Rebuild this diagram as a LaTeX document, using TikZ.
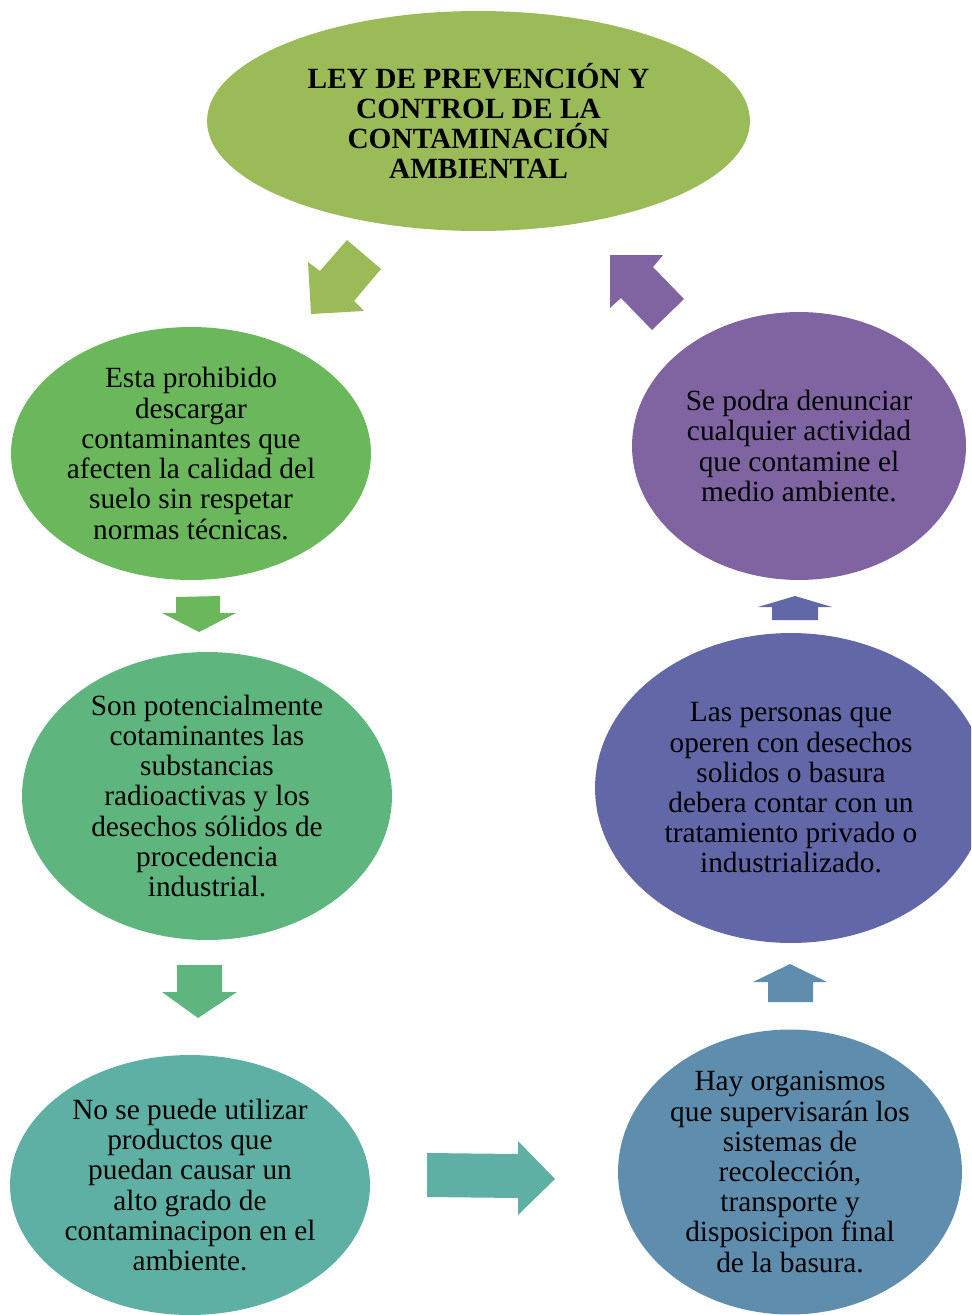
\documentclass[tikz,border=0pt]{standalone}
\usepackage{fontspec}
\setmainfont{Liberation Serif}
\usetikzlibrary{shapes.geometric}

\definecolor{leyolive}{HTML}{9BBB59}
\definecolor{verdeA}{HTML}{6AB85B}
\definecolor{verdeB}{HTML}{5EB67E}
\definecolor{tealC}{HTML}{5EB0A4}
\definecolor{azulD}{HTML}{5F8DAD}
\definecolor{azulE}{HTML}{6267A8}
\definecolor{moradoF}{HTML}{8064A2}

\tikzset{
  burbuja/.style={ellipse, inner sep=0pt, align=center, text=black,
    font=\fontsize{16.7pt}{17.2pt}\selectfont},
}

\begin{document}
\begin{tikzpicture}[x=0.02cm,y=-0.02cm]
\clip (0,0) rectangle (971,1315);
% ellipses
\node[burbuja, fill=leyolive, minimum width=10.86cm, minimum height=4.4cm,
  font=\fontsize{16.7pt}{17.2pt}\selectfont\bfseries] (ley) at (478.5,121)
  {LEY DE PREVENCIÓN Y\\CONTROL DE LA\\CONTAMINACIÓN\\AMBIENTAL};
\node[burbuja, fill=verdeA, minimum width=7.2cm, minimum height=5.06cm] (suelo) at (191,453.5)
  {Esta prohibido\\descargar\\contaminantes que\\afecten la calidad del\\suelo sin respetar\\normas técnicas.};
\node[burbuja, fill=verdeB, minimum width=7.4cm, minimum height=5.76cm] (radio) at (207,796)
  {Son potencialmente\\cotaminantes las\\substancias\\radioactivas y los\\desechos sólidos de\\procedencia\\industrial.};
\node[burbuja, fill=tealC, minimum width=7.2cm, minimum height=5.2cm] (productos) at (190,1185)
  {No se puede utilizar\\productos que\\puedan causar un\\alto grado de\\contaminacipon en el\\ambiente.};
\node[burbuja, fill=azulD, minimum width=6.88cm, minimum height=5.7cm] (organismos) at (790,1172)
  {Hay organismos\\que supervisarán los\\sistemas de\\recolección,\\transporte y\\disposicipon final\\de la basura.};
\node[burbuja, fill=azulE, minimum width=7.84cm, minimum height=6.2cm] (personas) at (791,788)
  {Las personas que\\operen con desechos\\solidos o basura\\debera contar con un\\tratamiento privado o\\industrializado.};
\node[burbuja, fill=moradoF, minimum width=6.68cm, minimum height=5.36cm] (denuncia) at (799,446)
  {Se podra denunciar\\cualquier actividad\\que contamine el\\medio ambiente.};
% block arrows
\fill[leyolive] (311,314) -- (308,262) -- (320,271) -- (347,240) -- (381,269) -- (354,301) -- (364,311) -- cycle;
\fill[verdeA] (199,632) -- (162,613) -- (176,613) -- (176,597) -- (220,596) -- (220,613) -- (236,613) -- cycle;
\fill[verdeB] (198,1018) -- (162,992) -- (177,992) -- (177,965) -- (222,965) -- (222,992) -- (237,992) -- cycle;
\fill[tealC] (555,1179) -- (518,1215) -- (518,1198) -- (427,1197) -- (427,1153) -- (518,1154) -- (518,1141) -- cycle;
\fill[azulD] (790,964) -- (827,982) -- (813,982) -- (813,1002) -- (768,1002) -- (768,982) -- (753,982) -- cycle;
\fill[azulE] (795,596) -- (832,607) -- (818,607) -- (818,620) -- (772,620) -- (772,607) -- (758,607) -- cycle;
\fill[moradoF] (610,255) -- (663,255) -- (653,267) -- (684,299) -- (652,330) -- (621,298) -- (610,308) -- cycle;
\end{tikzpicture}
\end{document}
